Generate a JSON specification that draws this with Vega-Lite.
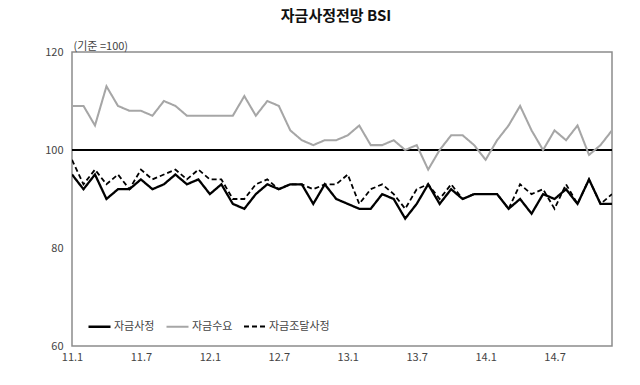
{
  "$schema": "https://vega.github.io/schema/vega-lite/v6.json",
  "autosize": "none",
  "width": 540,
  "height": 294,
  "padding": {"left": 72, "top": 52, "right": 28, "bottom": 39},
  "background": "white",
  "title": {"text": "자금사정전망 BSI", "font": "Noto Sans CJK KR", "fontSize": 15, "fontWeight": "bold", "color": "#111", "anchor": "middle", "offset": 16, "dx": -6},
  "config": {
    "view": {"stroke": "#8c8c8c", "strokeWidth": 1.5},
    "font": "Noto Sans CJK KR",
    "axis": {"labelFont": "Noto Sans CJK KR", "labelFontSize": 11, "labelColor": "#444", "domain": false, "ticks": false, "grid": false}
  },
  "data": {"values": [
    {"m": "11.1", "자금사정": 95, "자금수요": 109, "자금조달사정": 98},
    {"m": "11.2", "자금사정": 92, "자금수요": 109, "자금조달사정": 93},
    {"m": "11.3", "자금사정": 95, "자금수요": 105, "자금조달사정": 96},
    {"m": "11.4", "자금사정": 90, "자금수요": 113, "자금조달사정": 93},
    {"m": "11.5", "자금사정": 92, "자금수요": 109, "자금조달사정": 95},
    {"m": "11.6", "자금사정": 92, "자금수요": 108, "자금조달사정": 92},
    {"m": "11.7", "자금사정": 94, "자금수요": 108, "자금조달사정": 96},
    {"m": "11.8", "자금사정": 92, "자금수요": 107, "자금조달사정": 94},
    {"m": "11.9", "자금사정": 93, "자금수요": 110, "자금조달사정": 95},
    {"m": "11.10", "자금사정": 95, "자금수요": 109, "자금조달사정": 96},
    {"m": "11.11", "자금사정": 93, "자금수요": 107, "자금조달사정": 94},
    {"m": "11.12", "자금사정": 94, "자금수요": 107, "자금조달사정": 96},
    {"m": "12.1", "자금사정": 91, "자금수요": 107, "자금조달사정": 94},
    {"m": "12.2", "자금사정": 93, "자금수요": 107, "자금조달사정": 94},
    {"m": "12.3", "자금사정": 89, "자금수요": 107, "자금조달사정": 90},
    {"m": "12.4", "자금사정": 88, "자금수요": 111, "자금조달사정": 90},
    {"m": "12.5", "자금사정": 91, "자금수요": 107, "자금조달사정": 93},
    {"m": "12.6", "자금사정": 93, "자금수요": 110, "자금조달사정": 94},
    {"m": "12.7", "자금사정": 92, "자금수요": 109, "자금조달사정": 92},
    {"m": "12.8", "자금사정": 93, "자금수요": 104, "자금조달사정": 93},
    {"m": "12.9", "자금사정": 93, "자금수요": 102, "자금조달사정": 93},
    {"m": "12.10", "자금사정": 89, "자금수요": 101, "자금조달사정": 92},
    {"m": "12.11", "자금사정": 93, "자금수요": 102, "자금조달사정": 93},
    {"m": "12.12", "자금사정": 90, "자금수요": 102, "자금조달사정": 93},
    {"m": "13.1", "자금사정": 89, "자금수요": 103, "자금조달사정": 95},
    {"m": "13.2", "자금사정": 88, "자금수요": 105, "자금조달사정": 89},
    {"m": "13.3", "자금사정": 88, "자금수요": 101, "자금조달사정": 92},
    {"m": "13.4", "자금사정": 91, "자금수요": 101, "자금조달사정": 93},
    {"m": "13.5", "자금사정": 90, "자금수요": 102, "자금조달사정": 91},
    {"m": "13.6", "자금사정": 86, "자금수요": 100, "자금조달사정": 88},
    {"m": "13.7", "자금사정": 89, "자금수요": 101, "자금조달사정": 92},
    {"m": "13.8", "자금사정": 93, "자금수요": 96, "자금조달사정": 93},
    {"m": "13.9", "자금사정": 89, "자금수요": 100, "자금조달사정": 90},
    {"m": "13.10", "자금사정": 92, "자금수요": 103, "자금조달사정": 93},
    {"m": "13.11", "자금사정": 90, "자금수요": 103, "자금조달사정": 90},
    {"m": "13.12", "자금사정": 91, "자금수요": 101, "자금조달사정": 91},
    {"m": "14.1", "자금사정": 91, "자금수요": 98, "자금조달사정": 91},
    {"m": "14.2", "자금사정": 91, "자금수요": 102, "자금조달사정": 91},
    {"m": "14.3", "자금사정": 88, "자금수요": 105, "자금조달사정": 88},
    {"m": "14.4", "자금사정": 90, "자금수요": 109, "자금조달사정": 93},
    {"m": "14.5", "자금사정": 87, "자금수요": 104, "자금조달사정": 91},
    {"m": "14.6", "자금사정": 91, "자금수요": 100, "자금조달사정": 92},
    {"m": "14.7", "자금사정": 90, "자금수요": 104, "자금조달사정": 88},
    {"m": "14.8", "자금사정": 92, "자금수요": 102, "자금조달사정": 93},
    {"m": "14.9", "자금사정": 89, "자금수요": 105, "자금조달사정": 89},
    {"m": "14.10", "자금사정": 94, "자금수요": 99, "자금조달사정": 94},
    {"m": "14.11", "자금사정": 89, "자금수요": 101, "자금조달사정": 89},
    {"m": "14.12", "자금사정": 89, "자금수요": 104, "자금조달사정": 91}
  ]},
  "layer": [
    {
      "mark": {"type": "rule", "color": "#000", "strokeWidth": 1},
      "encoding": {"y": {"datum": 100, "type": "quantitative"}}
    },
    {
      "transform": [{"fold": ["자금사정", "자금수요", "자금조달사정"], "as": ["series", "value"]}],
      "mark": {"type": "line", "clip": true},
      "encoding": {
        "x": {
          "field": "m", "type": "ordinal", "sort": null,
          "scale": {"type": "point", "padding": 0},
          "axis": {"title": null, "labelAngle": 0, "labelPadding": 5, "values": ["11.1", "11.7", "12.1", "12.7", "13.1", "13.7", "14.1", "14.7"]}
        },
        "y": {
          "field": "value", "type": "quantitative",
          "scale": {"domain": [60, 120], "nice": false, "zero": false},
          "axis": {"values": [60, 80, 100, 120], "labelPadding": 9, "title": "(기준 =100)", "titleAngle": 0, "titleAlign": "left", "titleBaseline": "bottom", "titleX": 1, "titleY": -1, "titleFont": "Noto Sans CJK KR", "titleFontSize": 11, "titleFontWeight": "normal", "titleColor": "#444"}
        },
        "color": {
          "field": "series", "type": "nominal",
          "scale": {"domain": ["자금사정", "자금수요", "자금조달사정"], "range": ["#000000", "#a6a6a6", "#000000"]},
          "legend": {"title": null, "orient": "none", "legendX": 15, "legendY": 262, "direction": "horizontal", "symbolType": "stroke", "symbolSize": 484, "labelFontSize": 11, "labelColor": "#444", "labelOffset": 2, "columnPadding": 7, "labelFont": "Noto Sans CJK KR"}
        },
        "strokeDash": {
          "field": "series", "type": "nominal",
          "scale": {"domain": ["자금사정", "자금수요", "자금조달사정"], "range": [[1, 0], [1, 0], [5, 3]]},
          "legend": null
        },
        "strokeWidth": {
          "field": "series", "type": "nominal",
          "scale": {"domain": ["자금사정", "자금수요", "자금조달사정"], "range": [2.3, 1.8, 1.3]},
          "legend": null
        }
      }
    }
  ]
}
